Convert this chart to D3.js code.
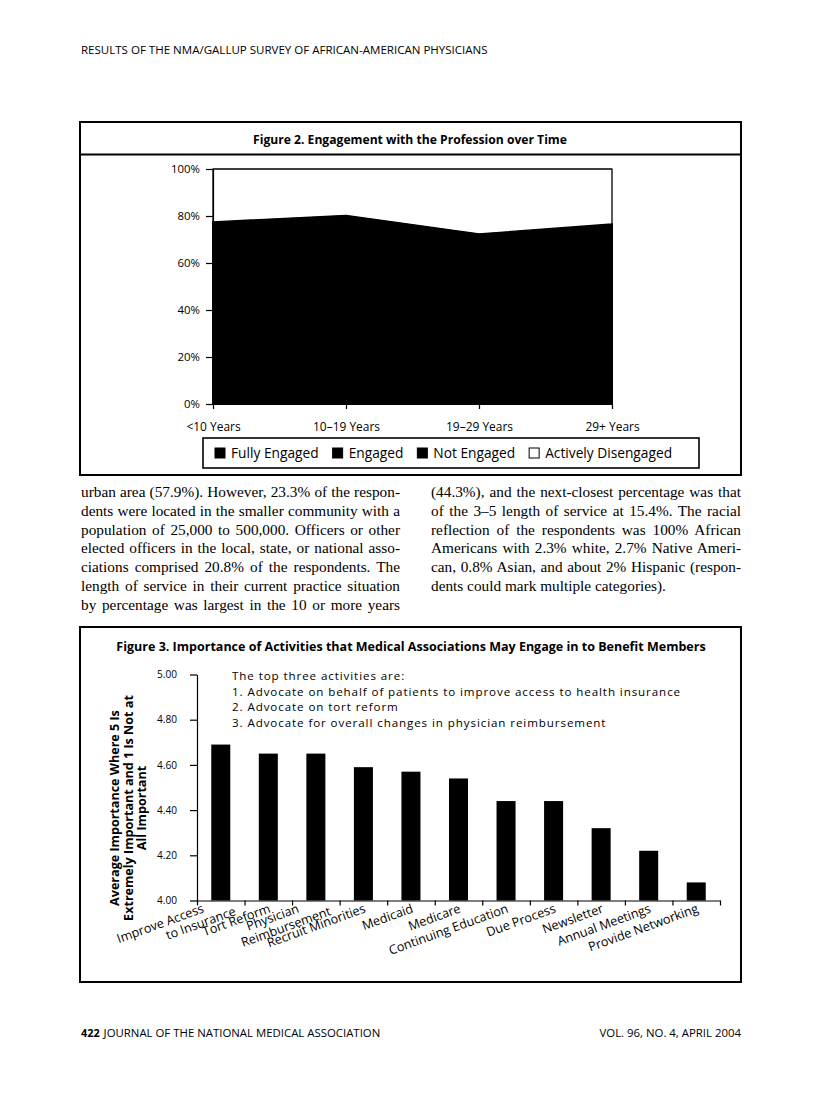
<!DOCTYPE html>
<html><head><meta charset="utf-8">
<script src="https://cdn.jsdelivr.net/npm/d3@7"></script>
<style>body{margin:0;background:#fff}svg{display:block}</style>
</head><body>
<script>
// ---------- DATA ----------
const fig2Periods = ["<10 Years", "10–19 Years", "19–29 Years", "29+ Years"];
const fig2Series = ["Fully Engaged", "Engaged", "Not Engaged", "Actively Disengaged"];
const fullyEngaged = [30, 33, 27, 30];
const engaged = [32, 32, 31, 31];
const notEngaged = [15.5, 15.3, 14.4, 15.6];
const activelyDisengaged = [22.5, 19.7, 27.6, 23.4];
const fig2Ticks = [0, 20, 40, 60, 80, 100];

const activities = [["Improve Access", "to Insurance"], ["Tort Reform"], ["Physician", "Reimbursement"],
  ["Recruit Minorities"], ["Medicaid"], ["Medicare"], ["Continuing Education"], ["Due Process"],
  ["Newsletter"], ["Annual Meetings"], ["Provide Networking"]];
const importance = [4.69, 4.65, 4.65, 4.59, 4.57, 4.54, 4.44, 4.44, 4.32, 4.22, 4.08];
const fig3Ticks = [4.00, 4.20, 4.40, 4.60, 4.80, 5.00];

const headerText = "RESULTS OF THE NMA/GALLUP SURVEY OF AFRICAN-AMERICAN PHYSICIANS";
const fig2Title = "Figure 2. Engagement with the Profession over Time";
const fig3Title = "Figure 3. Importance of Activities that Medical Associations May Engage in to Benefit Members";
const fig3Notes = ["The top three activities are:",
  "1. Advocate on behalf of patients to improve access to health insurance",
  "2. Advocate on tort reform",
  "3. Advocate for overall changes in physician reimbursement"];
const fig3YLabel = ["Average Importance Where 5 Is", "Extremely Important and 1 Is Not at", "All Important"];
const leftColumn = ["urban area (57.9%). However, 23.3% of the respon-",
  "dents were located in the smaller community with a",
  "population of 25,000 to 500,000. Officers or other",
  "elected officers in the local, state, or national asso-",
  "ciations comprised 20.8% of the respondents. The",
  "length of service in their current practice situation",
  "by percentage was largest in the 10 or more years"];
const rightColumn = ["(44.3%), and the next-closest percentage was that",
  "of the 3–5 length of service at 15.4%. The racial",
  "reflection of the respondents was 100% African",
  "Americans with 2.3% white, 2.7% Native Ameri-",
  "can, 0.8% Asian, and about 2% Hispanic (respon-",
  "dents could mark multiple categories)."];
const footerNum = "422";
const footerLeft = "JOURNAL OF THE NATIONAL MEDICAL ASSOCIATION";
const footerRight = "VOL. 96, NO. 4, APRIL 2004";

// ---------- SETUP ----------
const W = 816, H = 1103;
const SANS = "'Open Sans', sans-serif";
const SERIF = "'Liberation Serif', 'Times New Roman', serif";
const svg = d3.select("body").append("svg").attr("width", W).attr("height", H);
svg.append("rect").attr("width", W).attr("height", H).attr("fill", "#fff");

function measure(text, family, weight, size) {
  const t = svg.append("text").attr("font-family", family).attr("font-weight", weight)
    .attr("font-size", size).text(text);
  const w = t.node().getComputedTextLength();
  t.remove();
  return w;
}
function sizeFor(text, family, weight, target) {
  return 100 * target / measure(text, family, weight, 100);
}
function txt(g, x, y, s, size, opts = {}) {
  return g.append("text").attr("x", x).attr("y", y).text(s)
    .attr("font-family", opts.family || SANS).attr("font-size", size)
    .attr("font-weight", opts.weight || 400).attr("text-anchor", opts.anchor || "start")
    .attr("fill", "#000");
}

// header
txt(svg, 81, 54, headerText, sizeFor(headerText, SANS, 400, 407));

// ---------- FIGURE 2 ----------
const f2 = svg.append("g");
f2.append("rect").attr("x", 80).attr("y", 122).attr("width", 661).attr("height", 353)
  .attr("fill", "none").attr("stroke", "#000").attr("stroke-width", 2);
f2.append("line").attr("x1", 80).attr("x2", 741).attr("y1", 154.5).attr("y2", 154.5)
  .attr("stroke", "#000").attr("stroke-width", 2);
txt(f2, 410, 143.5, fig2Title, sizeFor(fig2Title, SANS, 700, 314), { weight: 700, anchor: "middle" });

const x2 = d3.scalePoint().domain(fig2Periods).range([213, 612]);
const y2 = d3.scaleLinear().domain([0, 100]).range([404, 169]);
const rows = fig2Periods.map((p, i) => ({
  period: p, "Fully Engaged": fullyEngaged[i], "Engaged": engaged[i],
  "Not Engaged": notEngaged[i], "Actively Disengaged": activelyDisengaged[i]
}));
const stacked = d3.stack().keys(fig2Series)(rows);
const area = d3.area().x(d => x2(d.data.period)).y0(d => y2(d[0])).y1(d => y2(d[1]));
const fills = ["#000", "#000", "#000", "#fff"];
f2.selectAll("path.ar").data(stacked).join("path").attr("class", "ar")
  .attr("d", area).attr("fill", (d, i) => fills[i])
  .attr("stroke", "#000").attr("stroke-width", (d, i) => i === 3 ? 1.3 : 2)
  .attr("stroke-linejoin", "round");

const ya2 = f2.append("g").attr("transform", "translate(213,0)")
  .call(d3.axisLeft(y2).tickValues(fig2Ticks).tickFormat(d => d + "%").tickSize(7).tickPadding(6).tickSizeOuter(0));
ya2.attr("font-family", SANS).attr("font-size", sizeFor("100%", SANS, 400, 29));
ya2.selectAll("line,path").attr("stroke", "#000").attr("stroke-width", 1.2);
ya2.selectAll("text").attr("fill", "#000");

const xa2 = f2.append("g").attr("transform", "translate(0,404)")
  .call(d3.axisBottom(x2).tickSize(5).tickPadding(14).tickSizeOuter(0));
xa2.attr("font-family", SANS).attr("font-size", sizeFor("10–19 Years", SANS, 400, 67));
xa2.selectAll("line,path").attr("stroke", "#000").attr("stroke-width", 1.2);
xa2.selectAll("text").attr("fill", "#000");

// legend
const legSize = sizeFor("Actively Disengaged", SANS, 400, 127);
f2.append("rect").attr("x", 203).attr("y", 438).attr("width", 496).attr("height", 30)
  .attr("fill", "#fff").attr("stroke", "#000").attr("stroke-width", 1.6);
let lx = 215;
fig2Series.forEach((s, i) => {
  f2.append("rect").attr("x", lx).attr("y", 448).attr("width", 10).attr("height", 10)
    .attr("fill", fills[i]).attr("stroke", "#000").attr("stroke-width", 1);
  const t = txt(f2, lx + 16, 457.5, s, legSize);
  lx += 16 + t.node().getComputedTextLength() + 14;
});

// ---------- BODY TEXT ----------
const justifiedLines = leftColumn.map(s => [s, 319]).concat(rightColumn.slice(0, -1).map(s => [s, 310]));
const bodySize = d3.min(justifiedLines, ([s, w]) => sizeFor(s, SERIF, 400, w - 2));
function column(lines, x0, width, lastJustified) {
  lines.forEach((s, i) => {
    const t = txt(svg, x0, 497 + i * 18.8, s, bodySize, { family: SERIF });
    const justify = lastJustified || i < lines.length - 1;
    if (justify) {
      const w = t.node().getComputedTextLength();
      const spaces = (s.match(/ /g) || []).length;
      if (spaces) t.attr("word-spacing", (width - w) / spaces);
    }
  });
}
column(leftColumn, 81, 319, true);
column(rightColumn, 431, 310, false);

// ---------- FIGURE 3 ----------
const f3 = svg.append("g");
f3.append("rect").attr("x", 80).attr("y", 627).attr("width", 661).attr("height", 355)
  .attr("fill", "none").attr("stroke", "#000").attr("stroke-width", 2);
txt(f3, 411, 650.5, fig3Title, sizeFor(fig3Title, SANS, 700, 590), { weight: 700, anchor: "middle" });

const y3 = d3.scaleLinear().domain([4, 5]).range([900.5, 674.5]);
const xb = d3.scaleBand().domain(d3.range(activities.length)).range([197, 720])
  .paddingInner(0.6).paddingOuter(0.3);
const xl = d3.scaleLinear().domain([0, activities.length]).range([197, 720]);

f3.selectAll("rect.bar").data(importance).join("rect").attr("class", "bar")
  .attr("x", (d, i) => xb(i)).attr("width", xb.bandwidth())
  .attr("y", d => y3(d)).attr("height", d => y3(4) - y3(d)).attr("fill", "#000");

const ya3 = f3.append("g").attr("transform", "translate(197,0)")
  .call(d3.axisLeft(y3).tickValues(fig3Ticks).tickFormat(d3.format(".2f")).tickSize(7).tickPadding(13).tickSizeOuter(0));
ya3.attr("font-family", SANS).attr("font-size", sizeFor("4.80", SANS, 400, 20));
ya3.selectAll("line,path").attr("stroke", "#000").attr("stroke-width", 1.2);
ya3.selectAll("text").attr("fill", "#000");

const xa3 = f3.append("g").attr("transform", "translate(0,900.5)")
  .call(d3.axisBottom(xl).tickValues(d3.range(activities.length + 1)).tickFormat("").tickSize(5).tickSizeOuter(0));
xa3.selectAll("line,path").attr("stroke", "#000").attr("stroke-width", 1.2);

// category labels, rotated; second lines drop below and run further right
const xlabSize = sizeFor("Provide Networking", SANS, 400, 116);
activities.forEach((lines, i) => {
  const cx = xb(i) + xb.bandwidth() / 2;
  const n = lines.length;
  const g = f3.append("g").attr("transform", `translate(${cx + (n > 1 ? -16 : 3)},912) rotate(-20)`);
  lines.forEach((s, j) => {
    txt(g, j * 29, j * 13.5, s, xlabSize, { anchor: "end" });
  });
});

// notes
const noteSize = 11.6;
const noteNat = measure(fig3Notes[1], SANS, 400, noteSize);
const noteLS = (449 - noteNat) / fig3Notes[1].length;
fig3Notes.forEach((s, i) => txt(f3, 232, 680 + i * 15.7, s, noteSize).attr("letter-spacing", noteLS));

const ylabSize = sizeFor(fig3YLabel[0], SANS, 700, 196);
const yl = f3.append("g").attr("transform", "rotate(-90)");
fig3YLabel.forEach((s, i) => {
  yl.append("text").attr("x", -808).attr("y", 119 + i * 13.5).text(s)
    .attr("font-family", SANS).attr("font-weight", 700).attr("font-size", ylabSize)
    .attr("text-anchor", "middle").attr("fill", "#000");
});

// ---------- FOOTER ----------
const footSize = sizeFor(footerLeft, SANS, 400, 277);
const numT = txt(svg, 81, 1037, footerNum, footSize * 0.95, { weight: 700 });
txt(svg, 81 + numT.node().getComputedTextLength() + 4, 1037, footerLeft, footSize);
txt(svg, 741, 1037, footerRight, footSize, { anchor: "end" });
</script>
</body></html>
